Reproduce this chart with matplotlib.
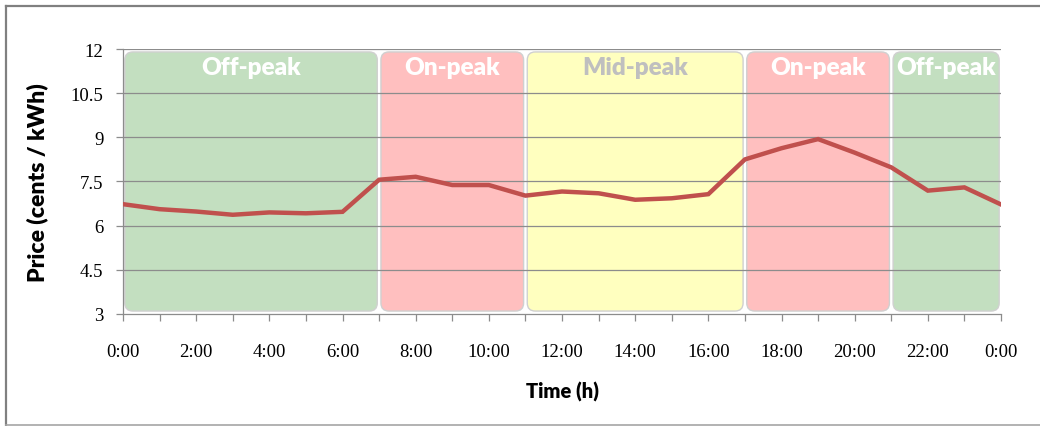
import numpy as np
import matplotlib
matplotlib.use('Agg')
import matplotlib.pyplot as plt
from matplotlib.patches import FancyBboxPatch
from matplotlib.lines import Line2D

# Hourly electricity price over a day (cents / kWh)
hours = list(range(25))
price = [6.73, 6.56, 6.48, 6.37, 6.45, 6.42, 6.47, 7.56, 7.66, 7.38, 7.38, 7.02,
         7.16, 7.10, 6.88, 6.93, 7.07, 8.25, 8.63, 8.94, 8.48, 7.98, 7.19, 7.30, 6.72]

# Time-of-use periods
period_names = ['Off-peak', 'On-peak', 'Mid-peak', 'On-peak', 'Off-peak']
period_start = [0, 7, 11, 17, 21]
period_end = [7, 11, 17, 21, 24]
period_colors = ['#C3DFC0', '#FFBFBF', '#FFFFBF', '#FFBFBF', '#C3DFC0']
label_colors = ['white', 'white', '#BFBFBF', 'white', 'white']

y_ticks = [3, 4.5, 6, 7.5, 9, 10.5, 12]
x_tick_labels = ['0:00', '2:00', '4:00', '6:00', '8:00', '10:00', '12:00',
                 '14:00', '16:00', '18:00', '20:00', '22:00', '0:00']

fig = plt.figure(figsize=(10.4, 4.27), dpi=100)
ax = fig.add_axes([0.1183, 0.2623, 0.8442, 0.6206])
ax.set_xlim(0, 24)
ax.set_ylim(3, 12)

# Rounded background boxes for each period
bbox = ax.get_window_extent()
px_x = bbox.width / 24
px_y = bbox.height / 9
aspect = px_x / px_y
for name, s, e, c, lc in zip(period_names, period_start, period_end, period_colors, label_colors):
    box = FancyBboxPatch((s + 0.05, 3.1), (e - s) - 0.1, 8.8,
                         boxstyle='round,pad=0,rounding_size=0.22',
                         mutation_aspect=aspect, facecolor=c,
                         edgecolor='#D0D0D0', linewidth=1.0, zorder=1)
    ax.add_patch(box)
    ax.text((s + e) / 2, 11.4, name, ha='center', va='center',
            fontsize=17.5, fontweight='heavy', family='Lato', color=lc, zorder=4)

# Horizontal gridlines
for yv in y_ticks[1:]:
    ax.axhline(yv, color='#8C8C8C', linewidth=0.9, zorder=2)

ax.plot(hours, price, color='#C0504D', linewidth=3.2, zorder=5,
        solid_joinstyle='miter')

ax.set_yticks(y_ticks)
ax.set_yticklabels(['%g' % v for v in y_ticks])
ax.set_xticks(range(0, 25, 2))
ax.set_xticklabels(x_tick_labels)
ax.set_xticks(range(25), minor=True)

for lab in ax.get_xticklabels() + ax.get_yticklabels():
    lab.set_family('Liberation Serif')
    lab.set_fontsize(13.5)

ax.tick_params(axis='y', direction='out', length=5, width=0.9, color='#8C8C8C', pad=9)
ax.tick_params(axis='x', which='both', direction='out', length=5, width=0.9,
               color='#8C8C8C', pad=16)

for side in ['top', 'right']:
    ax.spines[side].set_visible(False)
for side in ['left', 'bottom']:
    ax.spines[side].set_color('#8C8C8C')
    ax.spines[side].set_linewidth(0.9)

ax.set_xlabel('Time (h)', fontsize=14.5, fontweight='heavy', family='Lato', labelpad=15)
ax.set_ylabel('Price (cents / kWh)', fontsize=16.5, fontweight='heavy', family='Lato', labelpad=16)

# Outer frame of the chart area
fig.add_artist(Line2D([6 / 1040, 1.0], [1 - 7 / 427, 1 - 7 / 427], color='#808080', linewidth=1.6))
fig.add_artist(Line2D([6 / 1040, 6 / 1040], [1 - 7 / 427, 1.5 / 427], color='#808080', linewidth=1.6))
fig.add_artist(Line2D([6 / 1040, 1.0], [1.5 / 427, 1.5 / 427], color='#A6A6A6', linewidth=1.2))

fig.savefig('out.png', dpi=100)
